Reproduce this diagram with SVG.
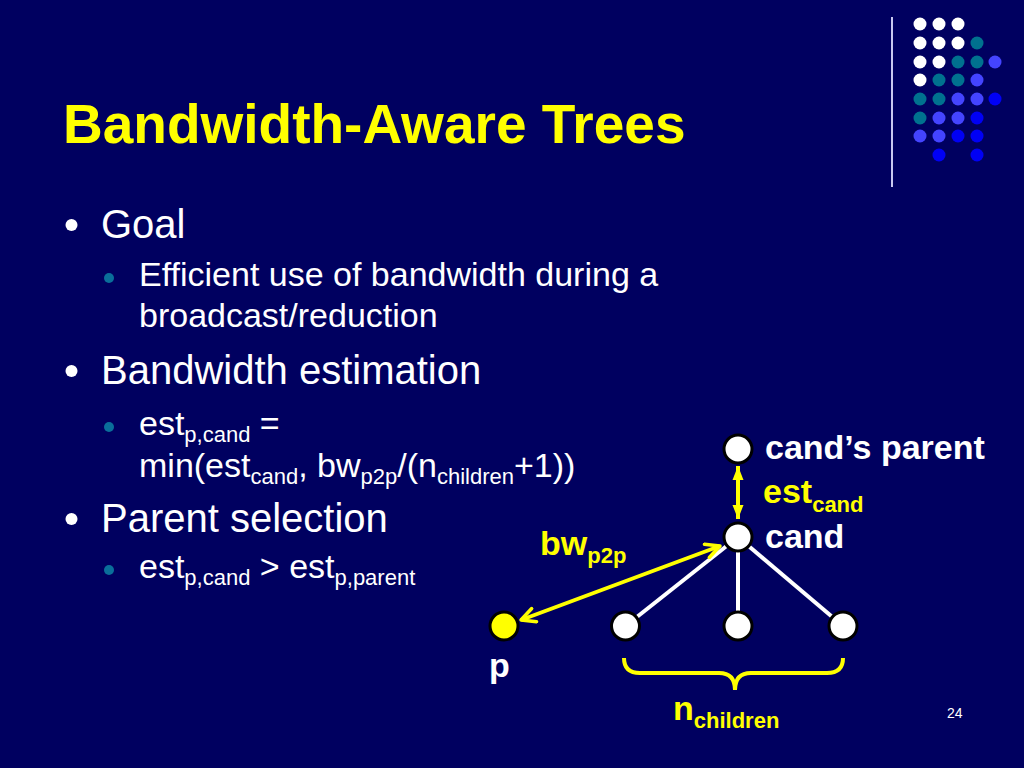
<svg xmlns="http://www.w3.org/2000/svg" width="1024" height="768" viewBox="0 0 1024 768">
<defs>
<style>
.t{font-family:"Liberation Sans",Arial,sans-serif;fill:#FFFFFF}
.l1{font-size:40px}
.l2{font-size:34px}
.b{font-weight:bold}
.y{fill:#FFFF00}
.node{fill:#FFFFFF;stroke:#000000;stroke-width:3}
.edge{stroke:#FFFFFF;stroke-width:4;fill:none}
.ya{stroke:#FFFF00;stroke-width:4;fill:none}
.w{fill:#FFFFFF}.tl{fill:#00718F}.m{fill:#4444FF}.bb{fill:#0000F5}
</style>
<marker id="ah" viewBox="0 0 18 18" refX="16" refY="9" markerWidth="18" markerHeight="18" markerUnits="userSpaceOnUse" orient="auto-start-reverse">
<path d="M2,2 L16,9 L2,16" fill="none" stroke="#FFFF00" stroke-width="3.5" stroke-linecap="round" stroke-linejoin="round"/>
</marker>
<marker id="tri" viewBox="0 0 14 12" refX="14" refY="6" markerWidth="14" markerHeight="12" markerUnits="userSpaceOnUse" orient="auto-start-reverse">
<path d="M0,0.5 L14,6 L0,11.5 Z" fill="#FFFF00"/>
</marker>
</defs>
<rect x="0" y="0" width="1024" height="768" fill="#000060"/>

<g id="decor">
<line x1="892" y1="17" x2="892" y2="187" stroke="#C8C8F0" stroke-width="2"/>
<circle class="w" cx="920" cy="24" r="6.5"/><circle class="w" cx="939" cy="24" r="6.5"/><circle class="w" cx="958" cy="24" r="6.5"/>
<circle class="w" cx="920" cy="43" r="6.5"/><circle class="w" cx="939" cy="43" r="6.5"/><circle class="w" cx="958" cy="43" r="6.5"/><circle class="tl" cx="977" cy="43" r="6.5"/>
<circle class="w" cx="920" cy="62" r="6.5"/><circle class="w" cx="939" cy="62" r="6.5"/><circle class="tl" cx="958" cy="62" r="6.5"/><circle class="tl" cx="977" cy="62" r="6.5"/><circle class="m" cx="995" cy="62" r="6.5"/>
<circle class="w" cx="920" cy="80" r="6.5"/><circle class="tl" cx="939" cy="80" r="6.5"/><circle class="tl" cx="958" cy="80" r="6.5"/><circle class="m" cx="977" cy="80" r="6.5"/>
<circle class="tl" cx="920" cy="99" r="6.5"/><circle class="tl" cx="939" cy="99" r="6.5"/><circle class="m" cx="958" cy="99" r="6.5"/><circle class="m" cx="977" cy="99" r="6.5"/><circle class="bb" cx="995" cy="99" r="6.5"/>
<circle class="tl" cx="920" cy="118" r="6.5"/><circle class="m" cx="939" cy="118" r="6.5"/><circle class="m" cx="958" cy="118" r="6.5"/><circle class="bb" cx="977" cy="118" r="6.5"/>
<circle class="m" cx="920" cy="136" r="6.5"/><circle class="m" cx="939" cy="136" r="6.5"/><circle class="bb" cx="958" cy="136" r="6.5"/><circle class="bb" cx="977" cy="136" r="6.5"/>
<circle class="bb" cx="939" cy="155" r="6.5"/><circle class="bb" cx="977" cy="155" r="6.5"/>
</g>

<g id="title">
<text class="t b y" x="63" y="143" font-size="55">Bandwidth-Aware Trees</text>
</g>

<g id="body">
<circle cx="71.5" cy="225" r="6" fill="#FFFFFF"/>
<text class="t l1" x="101" y="238">Goal</text>
<circle cx="109" cy="278" r="5" fill="#0A6E9A"/>
<text class="t l2" x="139" y="286">Efficient use of bandwidth during a</text>
<text class="t l2" x="139" y="327">broadcast/reduction</text>
<circle cx="71.5" cy="371" r="6" fill="#FFFFFF"/>
<text class="t l1" x="101" y="384">Bandwidth estimation</text>
<circle cx="109" cy="427" r="5" fill="#0A6E9A"/>
<text class="t l2" x="139" y="435">est<tspan font-size="22" dy="7">p,cand</tspan><tspan dy="-7"> =</tspan></text>
<text class="t l2" x="139" y="477">min(est<tspan font-size="22" dy="7">cand</tspan><tspan dy="-7">, bw</tspan><tspan font-size="22" dy="7">p2p</tspan><tspan dy="-7">/(n</tspan><tspan font-size="22" dy="7">children</tspan><tspan dy="-7">+1))</tspan></text>
<circle cx="71.5" cy="519" r="6" fill="#FFFFFF"/>
<text class="t l1" x="101" y="532">Parent selection</text>
<circle cx="109" cy="570" r="5" fill="#0A6E9A"/>
<text class="t l2" x="139" y="578">est<tspan font-size="22" dy="7">p,cand</tspan><tspan dy="-7"> &gt; est</tspan><tspan font-size="22" dy="7">p,parent</tspan></text>
</g>

<g id="connectors">
<line class="edge" x1="738" y1="537" x2="625.5" y2="626"/>
<line class="edge" x1="738" y1="537" x2="738" y2="626"/>
<line class="edge" x1="738" y1="537" x2="843" y2="626"/>
<line class="ya" x1="738" y1="466" x2="738" y2="519" marker-start="url(#tri)" marker-end="url(#tri)"/>
<line class="ya" x1="521" y1="620" x2="720" y2="546" marker-start="url(#ah)" marker-end="url(#ah)"/>
<path class="ya" d="M624,658 Q624,673 640,673 L719,673 Q735,673 735,690 Q735,673 751,673 L827,673 Q843,673 843,658"/>
</g>

<g id="node-parent"><circle class="node" cx="738" cy="449" r="14"/><text class="t b" x="765" y="459" font-size="34">cand’s parent</text></g>
<g id="node-cand"><circle class="node" cx="738" cy="537" r="14"/><text class="t b" x="765" y="548" font-size="34">cand</text></g>
<g id="node-child1"><circle class="node" cx="625.5" cy="626" r="14"/></g>
<g id="node-child2"><circle class="node" cx="738" cy="626" r="14"/></g>
<g id="node-child3"><circle class="node" cx="843" cy="626" r="14"/></g>
<g id="node-p"><circle class="node" cx="504" cy="626" r="14" style="fill:#FFFF00"/><text class="t b" x="489" y="677" font-size="34">p</text></g>

<g id="labels">
<text class="t b y" x="763" y="503" font-size="34">est<tspan font-size="22" dy="9">cand</tspan></text>
<text class="t b y" x="540" y="555" font-size="34">bw<tspan font-size="22" dy="8">p2p</tspan></text>
<text class="t b y" x="673" y="720" font-size="34">n<tspan font-size="22" dy="8">children</tspan></text>
<text class="t" x="947" y="718" font-size="14">24</text>
</g>
</svg>
